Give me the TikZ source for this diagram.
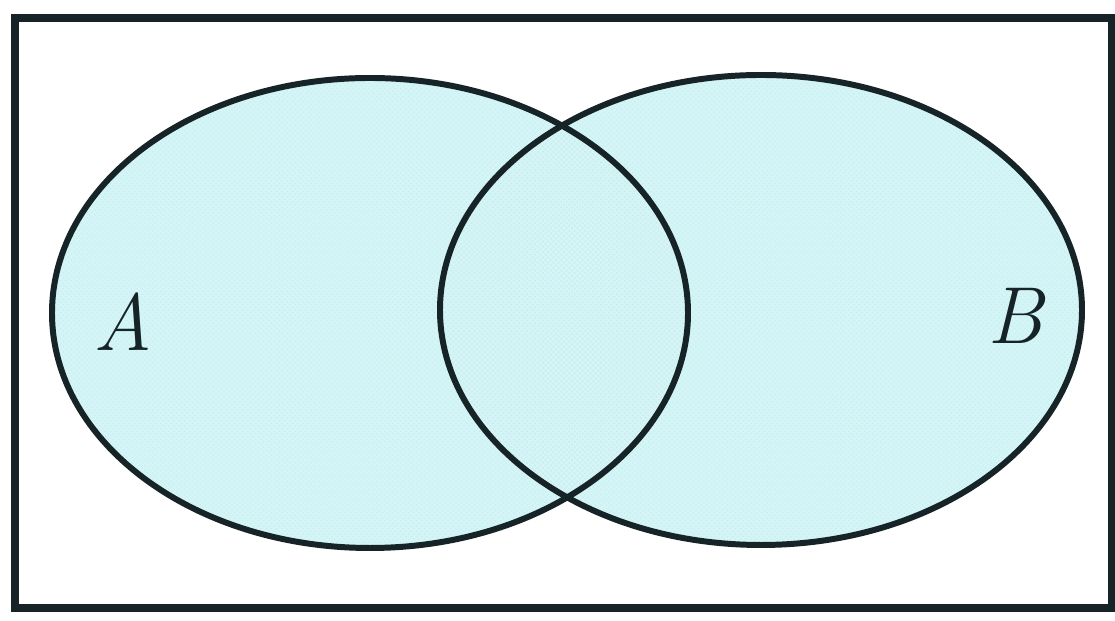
\documentclass[tikz,border=0pt]{standalone}
\usepackage{amsfonts,amssymb,amsmath}
\usepackage{xcolor}
\usetikzlibrary{patterns}
\definecolor{setcyan}{RGB}{210,246,248}
\definecolor{setink}{RGB}{22,36,40}
\tikzset{setline/.style={line width=3.4pt,setink},
setfill/.style={fill=setcyan},
setlabel/.style={setink,font=\fontsize{46}{54}\selectfont\itshape}}

\begin{document}
\begin{tikzpicture}
\useasboundingbox(0,0)rectangle(22.3,12.42);
\fill[white](0,0)rectangle(22.3,12.42);
\path[setfill](7.4,6.16)ellipse(6.36cm and 4.7cm);
\path[setfill](15.22,6.22)ellipse(6.42cm and 4.7cm);
\path[pattern=crosshatch dots,pattern color=setcyan!80!gray!70](7.4,6.16)ellipse(6.36cm and 4.7cm);
\path[pattern=crosshatch dots,pattern color=setcyan!80!gray!70](15.22,6.22)ellipse(6.42cm and 4.7cm);
%%
\draw[setline](7.4,6.16)ellipse(6.36cm and 4.7cm);
\draw[setline](15.22,6.22)ellipse(6.42cm and 4.7cm);
\draw[line width=4pt,setink](0.3,0.26)rectangle(22.24,12.06);
\node[setlabel](A)at(2.45,5.98){A};
\node[setlabel](B)at(20.3,6.1){B};
\end{tikzpicture}
\end{document}
